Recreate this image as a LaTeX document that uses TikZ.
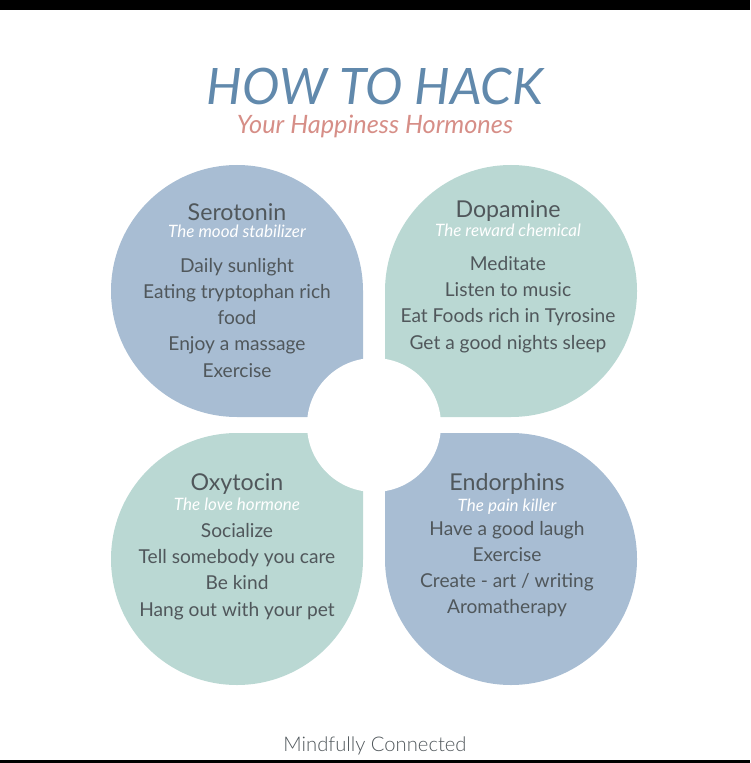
\documentclass[tikz,border=0pt]{standalone}
\usepackage{fontspec}
\setmainfont{Lato}
\newfontfamily\latolight{Lato Light}
\usepackage{xcolor}
\usetikzlibrary{positioning}
\definecolor{petalblue}{HTML}{A8BDD3}
\definecolor{petalmint}{HTML}{BAD8D3}
\definecolor{titleblue}{HTML}{6189AC}
\definecolor{subrose}{HTML}{D68E87}
\definecolor{bodygray}{HTML}{50575B}
\tikzset{
    hormone/.style={
        font=\fontsize{13.2}{15}\selectfont,
        text=bodygray, anchor=base, inner sep=0pt
    },
    nickname/.style={
        font=\itshape\fontsize{9.7}{11}\selectfont,
        text=white, anchor=base, inner sep=0pt
    },
    hack/.style={
        font=\fontsize{10.9}{13}\selectfont,
        text=bodygray, anchor=base, inner sep=0pt
    }
}

\begin{document}
\begin{tikzpicture}[x=0.02cm, y=-0.02cm,
	headline/.style={font=\itshape\fontsize{28.6}{34}\selectfont, text=titleblue, anchor=base, inner sep=0pt},
	tagline/.style={font=\itshape\fontsize{14.4}{17}\selectfont, text=subrose, anchor=base, inner sep=0pt},
	footer/.style={font=\latolight\fontsize{11.5}{14}\selectfont, text=bodygray, anchor=base, inner sep=0pt}
	]
	\useasboundingbox (0,0) rectangle (750,763);
	
	% FRAME BARS
	\fill[black] (0,0) rectangle (750,10);
	\fill[black] (0,760) rectangle (750,763);
	
	% PETALS
	\fill[petalblue] (363,417) -- (237,417) arc[start angle=90, end angle=360, radius=126] -- cycle;
	\fill[petalmint] (385,417) -- (385,291) arc[start angle=180, end angle=450, radius=126] -- cycle;
	\fill[petalmint] (363,433) -- (363,559) arc[start angle=0, end angle=270, radius=126] -- cycle;
	\fill[petalblue] (385,433) -- (511,433) arc[start angle=270, end angle=540, radius=126] -- cycle;
	\fill[white] (374,425) circle[radius=67];
	
	% TITLE
	\node (title) [headline] at (375,105) {HOW TO HACK};
	\node (subtitle) [tagline] at (375,134) {Your Happiness Hormones};
	
	% SEROTONIN
	\node (sero) [hormone] at (237,221) {Serotonin};
	\node (serosub) [nickname] at (237,238) {The mood stabilizer};
	\foreach \txt [count=\i] in {Daily sunlight, Eating tryptophan rich, food, Enjoy a massage, Exercise}
		\node (sero-\i) [hack] at (237,{246+26.2*\i}) {\txt};
	
	% DOPAMINE
	\node (dopa) [hormone] at (508,218) {Dopamine};
	\node (dopasub) [nickname] at (508,237) {The reward chemical};
	\foreach \txt [count=\i] in {Meditate, Listen to music, Eat Foods rich in Tyrosine, Get a good nights sleep}
		\node (dopa-\i) [hack] at (508,{244+26.3*\i}) {\txt};
	
	% OXYTOCIN
	\node (oxy) [hormone] at (237,490) {Oxytocin};
	\node (oxysub) [nickname] at (237,510) {The love hormone};
	\foreach \txt [count=\i] in {Socialize, Tell somebody you care, Be kind, Hang out with your pet}
		\node (oxy-\i) [hack] at (237,{511+26.3*\i}) {\txt};
	
	% ENDORPHINS
	\node (endo) [hormone] at (507,490) {Endorphins};
	\node (endosub) [nickname] at (507,511) {The pain killer};
	\foreach \txt [count=\i] in {Have a good laugh, Exercise, Create - art / writing, Aromatherapy}
		\node (endo-\i) [hack] at (507,{509+26.2*\i}) {\txt};
	
	% FOOTER
	\node (brand) [footer] at (375,751) {Mindfully Connected};
	
\end{tikzpicture}
\end{document}
